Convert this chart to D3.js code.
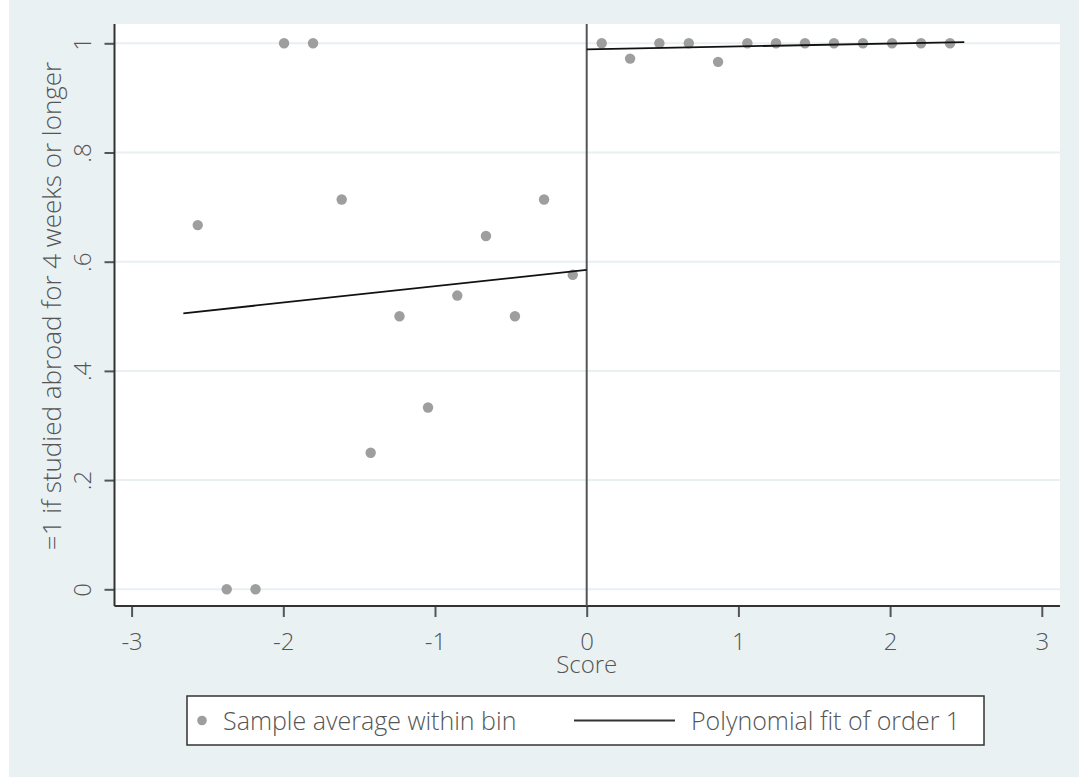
<!DOCTYPE html>
<html>
<head>
<meta charset="utf-8">
<script src="https://cdn.jsdelivr.net/npm/d3@7"></script>
<style>
  body { margin: 0; background: #fff; }
  svg { display: block; }
  text { font-family: "Open Sans", sans-serif; font-weight: 300; fill: #555; }
</style>
</head>
<body>
<svg width="1079" height="778"></svg>
<script>
// bin averages left of the cutoff
const leftScore = [-2.564, -2.373, -2.183, -1.995, -1.804, -1.615, -1.424, -1.234, -1.046, -0.853, -0.664, -0.473, -0.281, -0.092];
const leftShare = [0.667, 0, 0, 1, 1, 0.714, 0.25, 0.5, 0.333, 0.538, 0.647, 0.5, 0.714, 0.576];

// bin averages right of the cutoff
const rightScore = [0.099, 0.286, 0.479, 0.673, 0.866, 1.059, 1.248, 1.439, 1.63, 1.821, 2.013, 2.204, 2.395];
const rightShare = [1, 0.972, 1, 1, 0.966, 1, 1, 1, 1, 1, 1, 1, 1];

// linear fits (endpoints)
const leftFitX = [-2.659, 0];
const leftFitY = [0.5055, 0.585];
const rightFitX = [0, 2.489];
const rightFitY = [0.989, 1.002];

const xTicks = [-3, -2, -1, 0, 1, 2, 3];
const yTicks = [0, 0.2, 0.4, 0.6, 0.8, 1];
const yTickLabels = ["0", ".2", ".4", ".6", ".8", "1"];

const svg = d3.select("svg");
const fs = "24px";

// outer region
svg.append("rect")
  .attr("x", 9).attr("y", 0)
  .attr("width", 1070).attr("height", 777)
  .attr("fill", "#eaf1f3");

const plot = { left: 114.5, right: 1060, top: 24, bottom: 606 };

svg.append("rect")
  .attr("x", plot.left).attr("y", plot.top)
  .attr("width", plot.right - plot.left).attr("height", plot.bottom - plot.top)
  .attr("fill", "#fff");

const x = d3.scaleLinear().domain([-3, 3]).range([131.6, 1041.8]);
const y = d3.scaleLinear().domain([0, 1]).range([589.3, 43.3]);

// gridlines
svg.append("g")
  .selectAll("line")
  .data(yTicks)
  .enter()
  .append("line")
  .attr("x1", plot.left).attr("x2", plot.right)
  .attr("y1", d => y(d)).attr("y2", d => y(d))
  .attr("stroke", "#e8f0f2")
  .attr("stroke-width", 2);

// y axis
const yAxis = svg.append("g")
  .attr("transform", `translate(${plot.left},0)`)
  .call(d3.axisLeft(y).tickValues(yTicks).tickSize(10).tickPadding(12)
    .tickFormat((d, i) => yTickLabels[i]));
yAxis.attr("font-family", null).attr("font-size", null);
yAxis.select(".domain").remove();
yAxis.append("line")
  .attr("x1", 0).attr("x2", 0)
  .attr("y1", plot.top).attr("y2", plot.bottom)
  .attr("stroke", "#333").attr("stroke-width", 2);
yAxis.selectAll(".tick line").attr("stroke", "#555").attr("stroke-width", 2);
yAxis.selectAll(".tick text")
  .attr("x", null).attr("dy", null)
  .attr("transform", "translate(-24,0) rotate(-90)")
  .attr("text-anchor", "middle")
  .style("font-size", fs)
  .attr("fill", "#555");

// x axis
const xAxis = svg.append("g")
  .attr("transform", `translate(0,${plot.bottom})`)
  .call(d3.axisBottom(x).tickValues(xTicks).tickSize(11).tickPadding(16)
    .tickFormat(d => String(d)));
xAxis.attr("font-family", null).attr("font-size", null);
xAxis.select(".domain").remove();
xAxis.append("line")
  .attr("x1", plot.left).attr("x2", plot.right)
  .attr("y1", 0).attr("y2", 0)
  .attr("stroke", "#333").attr("stroke-width", 2);
xAxis.selectAll(".tick line").attr("stroke", "#555").attr("stroke-width", 2);
xAxis.selectAll(".tick text")
  .style("font-size", fs)
  .attr("fill", "#555");

// axis titles
svg.append("text")
  .attr("x", x(0)).attr("y", 673)
  .attr("text-anchor", "middle")
  .style("font-size", fs)
  .text("Score");

svg.append("text")
  .attr("transform", "translate(61,306) rotate(-90)")
  .attr("text-anchor", "middle")
  .style("font-size", "26px")
  .text("=1 if studied abroad for 4 weeks or longer");

// cutoff line
svg.append("line")
  .attr("x1", x(0)).attr("x2", x(0))
  .attr("y1", plot.top).attr("y2", plot.bottom)
  .attr("stroke", "#555").attr("stroke-width", 2);

// scatter
const pts = leftScore.map((s, i) => ({ s, v: leftShare[i] }))
  .concat(rightScore.map((s, i) => ({ s, v: rightShare[i] })));

svg.append("g")
  .selectAll("circle")
  .data(pts)
  .enter()
  .append("circle")
  .attr("cx", d => x(d.s))
  .attr("cy", d => y(d.v))
  .attr("r", 5.2)
  .attr("fill", "#9e9e9e");

// fit lines
const line = d3.line().x(d => x(d[0])).y(d => y(d[1]));
[[leftFitX, leftFitY], [rightFitX, rightFitY]].forEach(([fx, fy]) => {
  svg.append("path")
    .datum(fx.map((v, i) => [v, fy[i]]))
    .attr("d", line)
    .attr("fill", "none")
    .attr("stroke", "#111")
    .attr("stroke-width", 1.8);
});

// legend
const lg = svg.append("g");
lg.append("rect")
  .attr("x", 187).attr("y", 696)
  .attr("width", 797).attr("height", 49)
  .attr("fill", "#fff")
  .attr("stroke", "#333")
  .attr("stroke-width", 1.5);
lg.append("circle")
  .attr("cx", 202).attr("cy", 720.5).attr("r", 4.8)
  .attr("fill", "#9e9e9e");
lg.append("text")
  .attr("x", 223).attr("y", 729.5)
  .style("font-size", "25px")
  .text("Sample average within bin");
lg.append("line")
  .attr("x1", 574).attr("x2", 675)
  .attr("y1", 720.5).attr("y2", 720.5)
  .attr("stroke", "#333").attr("stroke-width", 2);
lg.append("text")
  .attr("x", 691).attr("y", 729.5)
  .style("font-size", "25px")
  .text("Polynomial fit of order 1");
</script>
</body>
</html>
